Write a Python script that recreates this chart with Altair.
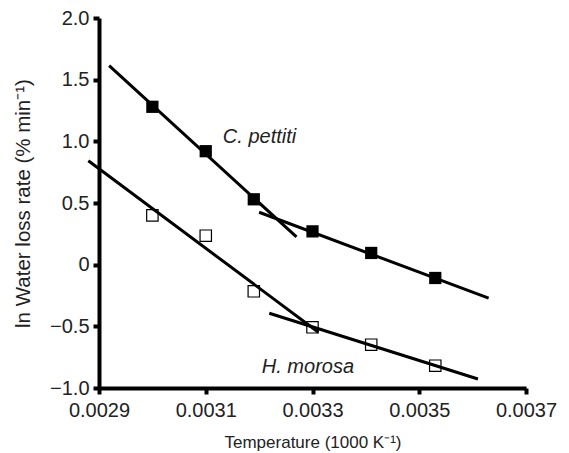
import altair as alt
import pandas as pd

# Data points (x = 1/T in 1000 K^-1, y = ln water loss rate)
temp_x = [0.0030, 0.0031, 0.00319, 0.0033, 0.00341, 0.00353]
pettiti_y = [1.28, 0.92, 0.53, 0.27, 0.095, -0.108]
morosa_y = [0.40, 0.235, -0.216, -0.508, -0.649, -0.819]

# Fitted line segments (start/end in data units)
seg_names = ["pettiti_hi", "pettiti_lo", "morosa_hi", "morosa_lo"]
seg_x0 = [0.002919, 0.00320, 0.00288, 0.003219]
seg_x1 = [0.00327, 0.00363, 0.003311, 0.00361]
seg_y0 = [1.613, 0.425, 0.843, -0.394]
seg_y1 = [0.225, -0.272, -0.548, -0.927]

# Species labels
lab_text = ["C. pettiti", "H. morosa"]
lab_x = [0.003132, 0.003205]
lab_y = [0.99, -0.878]

x_ticks = [0.0029, 0.0031, 0.0033, 0.0035, 0.0037]
y_ticks = [-1.0, -0.5, 0.0, 0.5, 1.0, 1.5, 2.0]

pts = pd.DataFrame({
    "x": temp_x * 2,
    "y": pettiti_y + morosa_y,
    "sp": ["C. pettiti"] * 6 + ["H. morosa"] * 6,
})
seg_rows = []
for n, a, b, c, d in zip(seg_names, seg_x0, seg_x1, seg_y0, seg_y1):
    seg_rows.append({"seg": n, "x": a, "y": c})
    seg_rows.append({"seg": n, "x": b, "y": d})
segs = pd.DataFrame(seg_rows)
labs = pd.DataFrame({"t": lab_text, "x": lab_x, "y": lab_y})

xs = alt.Scale(domain=[0.0029, 0.0037], nice=False, zero=False)
ys = alt.Scale(domain=[-1.0, 2.0], nice=False, zero=False)

common = dict(grid=False, domainColor="black", domainWidth=4, tickColor="black",
              tickWidth=4, tickSize=6, labelFont="Liberation Sans", labelFontSize=20,
              labelColor="#222", titleFont="Liberation Sans",
              titleFontWeight="normal", titleColor="#222")

X = alt.X("x:Q", scale=xs, axis=alt.Axis(
    values=x_ticks, format=".4f", title="Temperature (1000 K⁻¹)",
    labelFlush=False, labelOverlap=False, labelPadding=6, titlePadding=14,
    titleFontSize=17, **common))
Y = alt.Y("y:Q", scale=ys, axis=alt.Axis(
    values=y_ticks, title="ln Water loss rate (% min⁻¹)",
    labelExpr="datum.value == 0 ? '0' : replace(format(datum.value, '.1f'), '-', '–')",
    labelPadding=4, titlePadding=16, titleFontSize=20.5, **common))

lines = alt.Chart(segs).mark_line(color="black", strokeWidth=3).encode(
    x=X, y=Y, detail="seg:N")

filled = alt.Chart(pts).transform_filter("datum.sp == 'C. pettiti'").mark_point(
    shape="square", filled=True, color="black", size=150, opacity=1).encode(x=X, y=Y)

opn = alt.Chart(pts).transform_filter("datum.sp == 'H. morosa'").mark_point(
    shape="square", filled=False, stroke="black", strokeWidth=1.2, size=130, opacity=1).encode(x=X, y=Y)

text = alt.Chart(labs).mark_text(
    align="left", baseline="alphabetic", fontStyle="italic", fontSize=20,
    font="Liberation Sans", color="#222").encode(x=X, y=Y, text="t:N")

chart = alt.layer(lines, filled, opn, text).properties(
    width=427, height=370,
    autosize=alt.AutoSizeParams(type="none"),
    padding={"left": 99, "top": 18, "right": 43, "bottom": 65},
).configure_view(stroke=None)

chart.save("out.html", embed_options={"renderer": "svg", "actions": False})
